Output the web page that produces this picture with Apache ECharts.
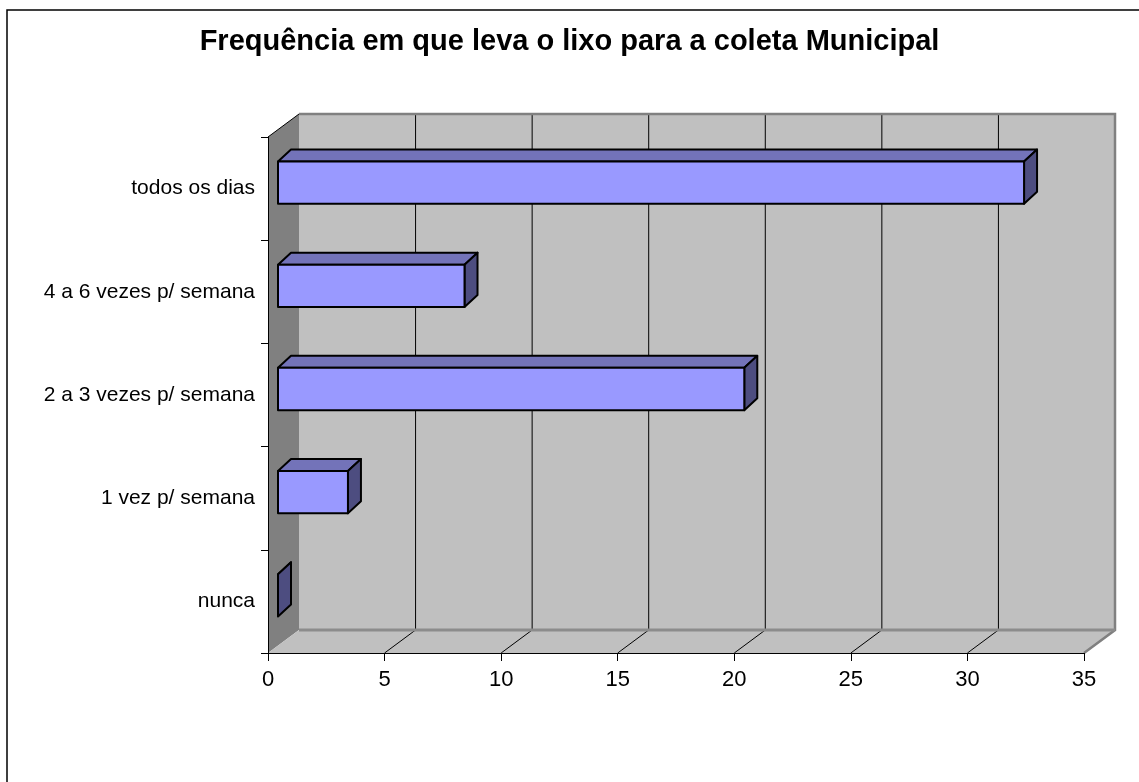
<!DOCTYPE html>
<html>
<head>
<meta charset="utf-8">
<script src="https://cdn.jsdelivr.net/npm/echarts@6/dist/echarts.min.js"></script>
<style>
  html, body { margin: 0; padding: 0; background: #fff; }
  #chart { width: 1139px; height: 782px; }
</style>
</head>
<body>
<div id="chart"></div>
<script>
// dados do gráfico
var categorias = ['nunca', '1 vez p/ semana', '2 a 3 vezes p/ semana', '4 a 6 vezes p/ semana', 'todos os dias'];
var valores = [0, 3, 20, 8, 32];
var ticksX = [0, 5, 10, 15, 20, 25, 30, 35];

// profundidade do "3D" (pixels)
var PX = 31, PY = -23;

var chart = echarts.init(document.getElementById('chart'));

function paredes(params, api) {
	var cs = params.coordSys;
	var x0 = cs.x, y0 = cs.y, w = cs.width, h = cs.height;
	var filhos = [];
	// parede do fundo
	filhos.push({ type: 'rect', shape: { x: x0 + PX, y: y0 + PY, width: w, height: h }, style: { fill: '#c0c0c0' } });
	// parede lateral
	filhos.push({ type: 'polygon', shape: { points: [[x0, y0], [x0 + PX, y0 + PY], [x0 + PX, y0 + h + PY], [x0, y0 + h]] }, style: { fill: '#808080' } });
	// chão
	filhos.push({ type: 'polygon', shape: { points: [[x0, y0 + h], [x0 + PX, y0 + h + PY], [x0 + w + PX, y0 + h + PY], [x0 + w, y0 + h]] }, style: { fill: '#c0c0c0' } });
	// linhas de grade
	for (var i = 1; i < ticksX.length - 1; i++) {
		var xf = api.coord([ticksX[i], 0])[0];
		var xb = xf + PX;
		filhos.push({ type: 'line', shape: { x1: xb, y1: y0 + PY, x2: xb, y2: y0 + h + PY }, style: { stroke: '#000', lineWidth: 1 } });
		filhos.push({ type: 'line', shape: { x1: xf, y1: y0 + h, x2: xb, y2: y0 + h + PY }, style: { stroke: '#000', lineWidth: 1 } });
	}
	// bordas cinza
	filhos.push({ type: 'polyline', shape: { points: [[x0 + PX, y0 + PY], [x0 + w + PX, y0 + PY], [x0 + w + PX, y0 + h + PY], [x0 + w, y0 + h]] }, style: { stroke: '#808080', lineWidth: 2.5, fill: null } });
	filhos.push({ type: 'line', shape: { x1: x0 + PX, y1: y0 + h + PY, x2: x0 + w + PX, y2: y0 + h + PY }, style: { stroke: '#8c8c8c', lineWidth: 3 } });
	filhos.push({ type: 'line', shape: { x1: x0, y1: y0, x2: x0 + PX, y2: y0 + PY }, style: { stroke: '#000', lineWidth: 1 } });
	return { type: 'group', children: filhos };
}

function barras3d(params, api) {
	var v = api.value(0), idx = api.value(1);
	var ini = api.coord([0, idx]);
	var fim = api.coord([v, idx]);
	var banda = api.size([0, 1])[1];
	var alt = banda * 0.41;
	var fx = 10, fy = -6, dx = 13, dy = -12;
	var x1 = ini[0] + fx, x2 = fim[0] + fx;
	var yt = ini[1] + fy - alt / 2, yb = ini[1] + fy + alt / 2;
	var borda = { stroke: '#000', lineWidth: 2, lineJoin: 'round' };
	var filhos = [];
	filhos.push({ type: 'polygon', shape: { points: [[x1, yt], [x2, yt], [x2 + dx, yt + dy], [x1 + dx, yt + dy]] }, style: Object.assign({ fill: '#7373b9' }, borda) });
	filhos.push({ type: 'polygon', shape: { points: [[x2, yt], [x2 + dx, yt + dy], [x2 + dx, yb + dy], [x2, yb]] }, style: Object.assign({ fill: '#4d4d80' }, borda) });
	if (x2 - x1 > 0.5) {
		filhos.push({ type: 'rect', shape: { x: x1, y: yt, width: x2 - x1, height: yb - yt }, style: Object.assign({ fill: '#9999ff' }, borda) });
	}
	return { type: 'group', children: filhos };
}

var dadosBarras = [];
for (var i = 0; i < categorias.length; i++) {
	dadosBarras.push([valores[i], i]);
}

var option = {
	animation: false,
	backgroundColor: '#ffffff',
	title: {
		text: 'Frequência em que leva o lixo para a coleta Municipal',
		left: 'center',
		top: 22,
		textStyle: { fontFamily: 'Liberation Sans, Arial', fontSize: 29, fontWeight: 'bold', color: '#000' }
	},
	graphic: [{
		type: 'rect',
		shape: { x: 7, y: 10, width: 1200, height: 900 },
		style: { fill: null, stroke: '#000', lineWidth: 1.5 },
		silent: true
	}],
	grid: { left: 268, top: 137, right: 55, bottom: 129 },
	xAxis: {
		type: 'value',
		min: 0,
		max: 35,
		interval: 5,
		z: 10,
		axisLine: { show: true, lineStyle: { color: '#000', width: 1 } },
		axisTick: { show: true, length: 8, lineStyle: { color: '#000' } },
		splitLine: { show: false },
		axisLabel: { fontFamily: 'Liberation Sans, Arial', fontSize: 22, color: '#000', margin: 16 }
	},
	yAxis: {
		type: 'category',
		data: categorias,
		z: 10,
		axisLine: { show: true, lineStyle: { color: '#000', width: 1 } },
		axisTick: { show: true, length: 7, lineStyle: { color: '#000' } },
		splitLine: { show: false },
		axisLabel: { fontFamily: 'Liberation Sans, Arial', fontSize: 21, color: '#000', margin: 13 }
	},
	series: [{
		type: 'custom',
		z: 1,
		silent: true,
		renderItem: paredes,
		data: [[0, 0]]
	}, {
		type: 'custom',
		z: 3,
		renderItem: barras3d,
		encode: { x: 0, y: 1 },
		data: dadosBarras
	}]
};

chart.setOption(option);
</script>
</body>
</html>
